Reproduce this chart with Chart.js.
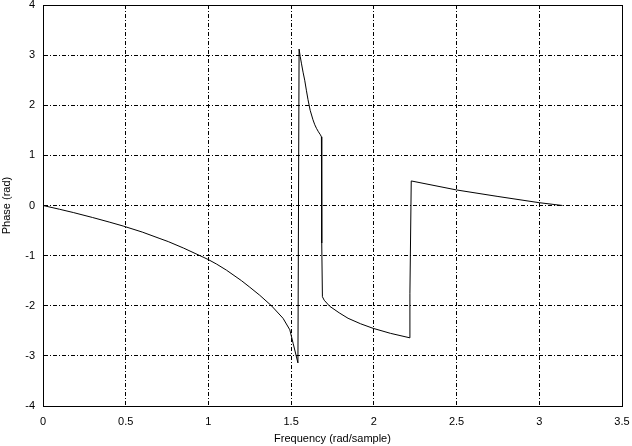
<!DOCTYPE html>
<html lang="en">
<head>
    <meta charset="UTF-8">
    <title>Phase response</title>
    <script src="https://cdn.jsdelivr.net/npm/chart.js"></script>
    <style>
        body {
            margin: 0;
            background: #fff;
        }
        #wrap {
            width: 632px;
            height: 446px;
        }
    </style>
</head>
<body>
    <div id="wrap"><canvas id="chart"></canvas></div>

    <script>
        // frequency (rad/sample) and phase (rad)
        const freq = [
            0, 0.1, 0.183, 0.3, 0.4, 0.485, 0.6, 0.707, 0.757, 0.85, 0.968, 1.0, 1.05, 1.109,
            1.2, 1.25, 1.31, 1.381, 1.451, 1.492, 1.512, 1.541,
            1.548, 1.555, 1.562, 1.572, 1.582, 1.592, 1.602, 1.615, 1.632, 1.643, 1.653, 1.665, 1.677, 1.683,
            1.685, 1.689,
            1.70, 1.733, 1.79, 1.844, 1.92, 1.995, 2.1, 2.218,
            2.218, 2.226,
            2.5, 2.75, 3.0, 3.14
        ];
        const phase = [
            0, -0.075, -0.14, -0.24, -0.33, -0.41, -0.53, -0.66, -0.72, -0.85, -1.03, -1.08, -1.17, -1.29,
            -1.5, -1.63, -1.79, -2.0, -2.25, -2.48, -2.75, -3.14,
            3.12, 2.97, 2.84, 2.66, 2.5, 2.3, 2.11, 1.9, 1.71, 1.61, 1.54, 1.47, 1.41, 1.37,
            -0.75, -1.82,
            -1.89, -2.01, -2.14, -2.25, -2.36, -2.45, -2.55, -2.64,
            -1.75, 0.49,
            0.31, 0.18, 0.056, 0
        ];
        const xTicks = ['0', '0.5', '1', '1.5', '2', '2.5', '3', '3.5'];
        const yTicks = ['-4', '-3', '-2', '-1', '0', '1', '2', '3', '4'];

        const points = freq.map((f, i) => ({ x: f, y: phase[i] }));
        const font = { family: "'Liberation Sans', Arial, sans-serif", size: 11 };

        // solid frame round the plot area
        const frame = {
            id: 'frame',
            afterDraw(chart) {
                const a = chart.chartArea;
                const c = chart.ctx;
                c.save();
                c.strokeStyle = '#000';
                c.lineWidth = 1;
                c.setLineDash([]);
                c.strokeRect(Math.round(a.left) + 0.5, Math.round(a.top) + 0.5,
                    Math.round(a.right - a.left), Math.round(a.bottom - a.top));
                c.restore();
            }
        };

        new Chart(document.getElementById('chart'), {
            type: 'scatter',
            data: {
                datasets: [{
                    data: points,
                    showLine: true,
                    borderColor: '#000',
                    borderWidth: 1,
                    pointRadius: 0,
                    tension: 0
                }]
            },
            options: {
                responsive: true,
                maintainAspectRatio: false,
                animation: false,
                layout: { padding: { top: 5, right: 10, left: 0, bottom: 0 } },
                plugins: {
                    legend: { display: false },
                    tooltip: { enabled: false }
                },
                scales: {
                    x: {
                        type: 'linear',
                        min: 0,
                        max: 3.5,
                        afterFit: s => {
                            s.height = 40;
                            s.paddingLeft = 0;
                            s.paddingRight = 0;
                        },
                        ticks: {
                            stepSize: 0.5,
                            color: '#000',
                            font: font,
                            padding: 9,
                            maxRotation: 0,
                            callback: (v, i) => xTicks[i]
                        },
                        grid: { color: '#000', lineWidth: 1, drawTicks: false },
                        border: { color: '#000', dash: [4, 2, 1, 2] },
                        title: {
                            display: true,
                            text: 'Frequency (rad/sample)',
                            color: '#000',
                            font: font,
                            padding: { top: 2, bottom: 0 }
                        }
                    },
                    y: {
                        type: 'linear',
                        min: -4,
                        max: 4,
                        afterFit: s => {
                            s.width = 43;
                            s.paddingTop = 0;
                            s.paddingBottom = 0;
                        },
                        ticks: {
                            stepSize: 1,
                            color: '#000',
                            font: font,
                            padding: 8,
                            callback: (v, i) => yTicks[i]
                        },
                        grid: { color: '#000', lineWidth: 1, drawTicks: false },
                        border: { color: '#000', dash: [4, 2, 1, 2] },
                        title: {
                            display: true,
                            text: 'Phase (rad)',
                            color: '#000',
                            font: font,
                            padding: { top: 0, bottom: 0 }
                        }
                    }
                }
            },
            plugins: [frame]
        });
    </script>
</body>
</html>
